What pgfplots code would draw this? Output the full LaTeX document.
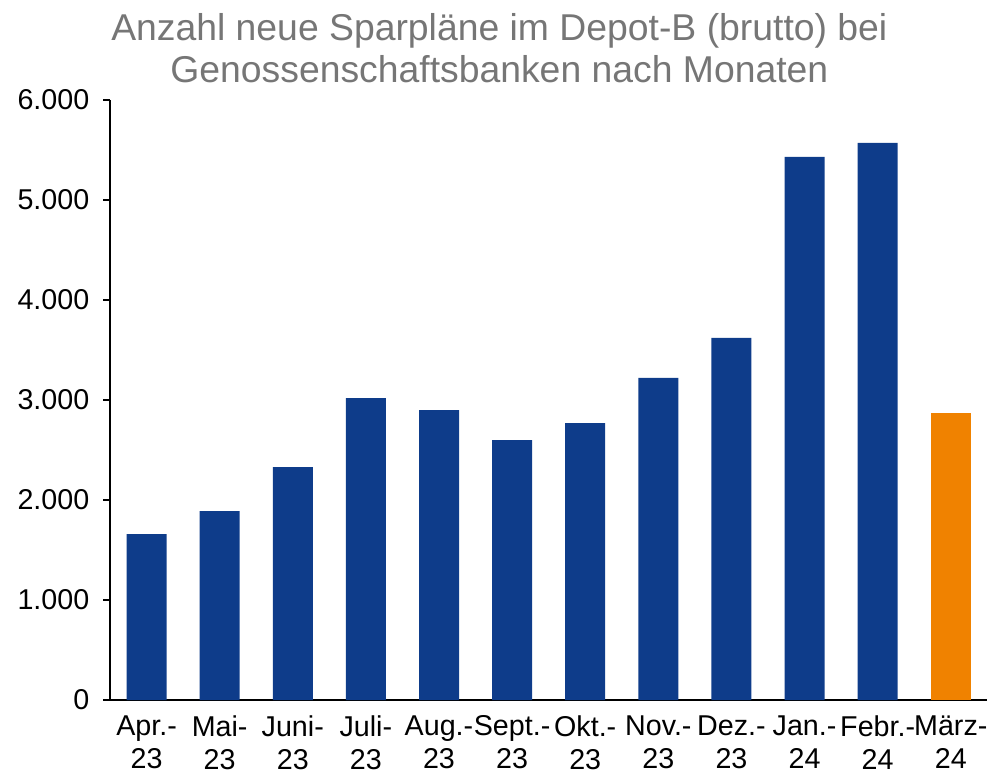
\documentclass[border=0pt]{standalone}
\usepackage{pgfplots}
\pgfplotsset{compat=1.18}
\usepackage{fontspec}
\setmainfont{Liberation Sans}
\definecolor{barblue}{RGB}{14,60,138}
\definecolor{barorange}{RGB}{240,130,0}
\definecolor{titlegray}{RGB}{118,118,118}
\begin{document}
\begin{tikzpicture}
\path[use as bounding box] (-82.5pt,-59.25pt) rectangle (664.5pt,525pt);
\begin{axis}[
  at={(0,0)}, anchor=south west,
  scale only axis,
  width=658pt, height=450pt,
  xmin=-0.5, xmax=11.5,
  ymin=0, ymax=6000,
  ytick={0,1000,2000,3000,4000,5000,6000},
  xtick={0,...,11},
  xticklabels={{Apr.-\\23},{Mai-\\23},{Juni-\\23},{Juli-\\23},{Aug.-\\23},{Sept.-\\23},{Okt.-\\23},{Nov.-\\23},{Dez.-\\23},{Jan.-\\24},{Febr.-\\24},{März-\\24}},
  xticklabel style={align=center, font=\fontsize{21.5}{25}\selectfont, yshift=-3pt},
  yticklabel style={font=\fontsize{21.5}{24}\selectfont, xshift=-7pt},
  /pgf/number format/.cd, 1000 sep={.}, assume math mode=true,
  /pgfplots/.cd,
  axis x line*=bottom, axis y line*=left,
  x axis line style={-, line width=1.2pt},
  y axis line style={-, line width=1.2pt},
  major tick length=5pt,
  xtick style={draw=none},
  ytick style={line width=1.2pt, black},
  tick align=outside,
  ybar, bar width=30pt, bar shift=0pt,
  title={Anzahl neue Sparpläne im Depot-B (brutto) bei\\Genossenschaftsbanken nach Monaten},
  title style={align=center, font=\fontsize{28}{32}\selectfont, text=titlegray, yshift=3pt, xshift=-37pt},
]
\addplot[fill=barblue, draw=none] coordinates {
(0,1660) (1,1890) (2,2330) (3,3020) (4,2900) (5,2600) (6,2770) (7,3220) (8,3620) (9,5430) (10,5570)};
\addplot[fill=barorange, draw=none] coordinates {(11,2870)};
\end{axis}
\end{tikzpicture}
\end{document}
